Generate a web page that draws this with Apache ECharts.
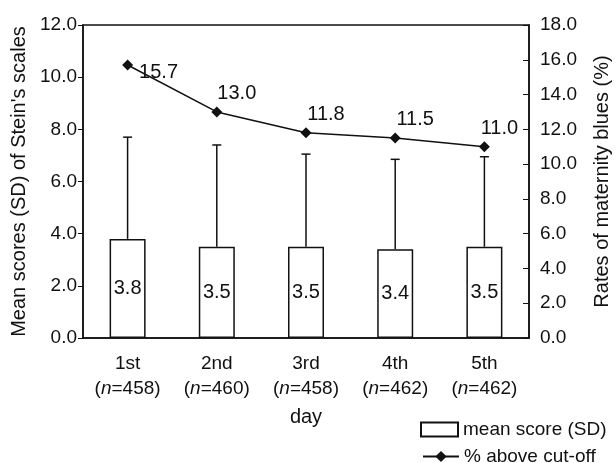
<!DOCTYPE html>
<html>
<head>
<meta charset="utf-8">
<script src="https://cdn.jsdelivr.net/npm/echarts@6/dist/echarts.min.js"></script>
<style>
  html, body { margin: 0; padding: 0; background: #fff; }
  #chart { width: 616px; height: 463px; }
</style>
</head>
<body>
<div id="chart"></div>
<script>
const days = ['1st', '2nd', '3rd', '4th', '5th']
const sampleSizes = [458, 460, 458, 462, 462]
const meanScores = [3.8, 3.5, 3.5, 3.4, 3.5]
const sdValues = [3.9, 3.9, 3.55, 3.45, 3.45]
const aboveCutoff = [15.7, 13.0, 11.8, 11.5, 11.0]

const font = 'Liberation Sans, Arial, Helvetica, sans-serif'
const ink = '#111'
const chart = echarts.init(document.getElementById('chart'))

// label placement for each point of the line
const lineLabelPos = [
  { position: 'right', distance: 6, offset: [0, 7] },
  { position: 'top', offset: [20, 2] },
  { position: 'top', offset: [20, 2] },
  { position: 'top', offset: [20, 2] },
  { position: 'top', offset: [15, 2] }
]

const legendText = { fontFamily: font, fontSize: 19, color: ink }

const option = {
  animation: false,
  textStyle: { fontFamily: font, color: ink },
  grid: {
    left: 83, right: 87, top: 25, bottom: 125,
    outerBoundsMode: 'none',
    containLabel: false,
    show: true, borderColor: ink, borderWidth: 1.5
  },
  legend: [
    {
      left: 415,
      top: 415,
      itemWidth: 37,
      itemHeight: 14,
      itemGap: 6,
      textStyle: legendText,
      data: [{ name: 'mean score (SD)', icon: 'rect' }]
    },
    {
      left: 417,
      top: 442,
      itemWidth: 36,
      itemHeight: 14,
      textStyle: legendText,
      data: [{ name: '% above cut-off' }]
    }
  ],
  xAxis: {
    type: 'category',
    data: days,
    name: 'day',
    nameLocation: 'middle',
    nameGap: 69,
    nameTextStyle: { fontFamily: font, fontSize: 20, color: ink },
    axisLine: { lineStyle: { color: ink, width: 1.5 } },
    axisTick: { inside: true, length: 6, lineStyle: { color: ink } },
    axisLabel: {
      interval: 0,
      margin: 13,
      formatter: function (v, i) {
        return '{a|' + v + '}\n{a|(}{i|n}{a|=' + sampleSizes[i] + ')}'
      },
      rich: {
        a: { fontFamily: font, fontSize: 19, color: ink, lineHeight: 25 },
        i: { fontFamily: font, fontSize: 19, fontStyle: 'italic', color: ink, lineHeight: 25 }
      }
    }
  },
  yAxis: [
    {
      type: 'value',
      min: 0,
      max: 12,
      interval: 2,
      name: "Mean scores (SD) of Stein's scales",
      nameLocation: 'middle',
      nameGap: 48,
      nameTextStyle: { fontFamily: font, fontSize: 20, color: ink },
      axisLine: { show: true, lineStyle: { color: ink, width: 1.5 } },
      axisTick: { show: true, length: 5, lineStyle: { color: ink } },
      axisLabel: { fontSize: 19, color: ink, margin: 6, formatter: v => v.toFixed(1) },
      splitLine: { show: false }
    },
    {
      type: 'value',
      min: 0,
      max: 18,
      interval: 2,
      position: 'right',
      name: 'Rates of maternity blues (%)',
      nameLocation: 'middle',
      nameGap: 63,
      nameRotate: 90,
      nameTextStyle: { fontFamily: font, fontSize: 20, color: ink },
      axisLine: { show: true, lineStyle: { color: ink, width: 1.5 } },
      axisTick: { show: true, inside: true, length: 6, lineStyle: { color: ink } },
      axisLabel: { fontSize: 19, color: ink, margin: 11, formatter: v => v.toFixed(1) },
      splitLine: { show: false }
    }
  ],
  series: [
    {
      name: 'mean score (SD)',
      type: 'bar',
      data: meanScores,
      barWidth: 36,
      itemStyle: { color: '#fff', borderColor: ink, borderWidth: 1.5 },
      label: {
        show: true,
        position: 'inside',
        fontFamily: font,
        fontSize: 20,
        color: ink,
        formatter: p => p.value.toFixed(1)
      },
      z: 2
    },
    {
      name: 'SD',
      type: 'custom',
      data: meanScores.map((m, i) => [i, m, m + sdValues[i]]),
      renderItem: function (params, api) {
        const base = api.coord([api.value(0), api.value(1)])
        const top = api.coord([api.value(0), api.value(2)])
        const half = 4.5
        return {
          type: 'group',
          children: [
            { type: 'line', shape: { x1: base[0], y1: base[1], x2: top[0], y2: top[1] }, style: { stroke: ink, lineWidth: 1.5 } },
            { type: 'line', shape: { x1: top[0] - half, y1: top[1], x2: top[0] + half, y2: top[1] }, style: { stroke: ink, lineWidth: 1.5 } }
          ]
        }
      },
      z: 3
    },
    {
      name: '% above cut-off',
      type: 'line',
      yAxisIndex: 1,
      data: aboveCutoff.map((v, i) => ({
        value: v,
        label: Object.assign({ show: true }, lineLabelPos[i])
      })),
      symbol: 'diamond',
      symbolSize: 11,
      itemStyle: { color: ink },
      lineStyle: { color: ink, width: 1.5 },
      label: {
        show: true,
        fontFamily: font,
        fontSize: 20,
        color: ink,
        formatter: p => p.value.toFixed(1)
      },
      z: 5
    }
  ]
}

chart.setOption(option)
</script>
</body>
</html>
